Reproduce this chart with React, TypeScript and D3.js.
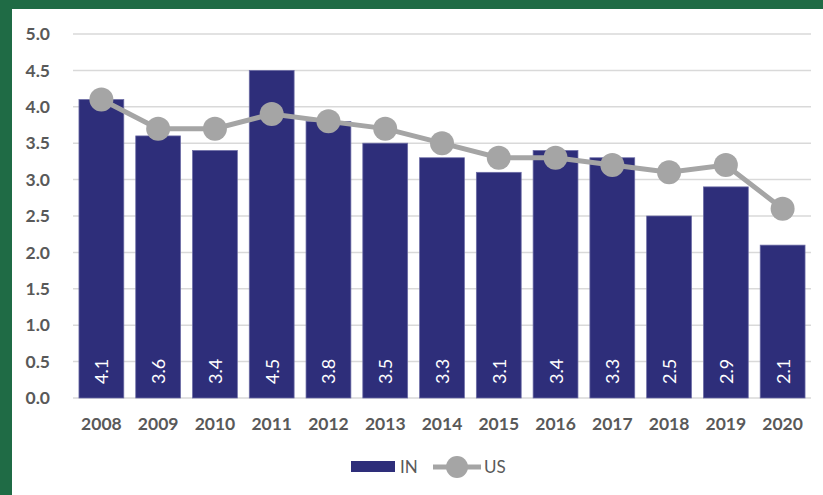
import { useEffect, useRef } from 'react';
import * as d3 from 'd3';

const years = ['2008', '2009', '2010', '2011', '2012', '2013', '2014', '2015', '2016', '2017', '2018', '2019', '2020'];
const inValues = [4.1, 3.6, 3.4, 4.5, 3.8, 3.5, 3.3, 3.1, 3.4, 3.3, 2.5, 2.9, 2.1];
const usValues = [4.1, 3.7, 3.7, 3.9, 3.8, 3.7, 3.5, 3.3, 3.3, 3.2, 3.1, 3.2, 2.6];
const yTicks = [0, 0.5, 1, 1.5, 2, 2.5, 3, 3.5, 4, 4.5, 5];

const W = 823;
const H = 495;
const FONT = 'Lato, "Open Sans", sans-serif';

const App = () => {
  const ref = useRef<SVGSVGElement>(null);

  useEffect(() => {
    const svg = d3.select(ref.current);
    svg.selectAll('*').remove();

    // green frame + white panel
    svg.append('rect').attr('width', W).attr('height', H).attr('fill', '#1f6b45');
    svg.append('rect').attr('x', 12).attr('y', 9).attr('width', W - 12).attr('height', H - 9).attr('fill', '#fff');

    const left = 73, right = 811, top = 34, bottom = 398;

    const x = d3.scaleBand().domain(years).range([left, right]).paddingInner(0.21).paddingOuter(0.105);
    const y = d3.scaleLinear().domain([0, 5]).range([bottom, top]);

    const grid = svg.append('g');
    grid.selectAll('line')
      .data(yTicks)
      .join('line')
      .attr('x1', left)
      .attr('x2', right)
      .attr('y1', d => y(d))
      .attr('y2', d => y(d))
      .attr('stroke', '#d9d9d9')
      .attr('stroke-width', 1.5);

    const yAxis = svg.append('g')
      .attr('transform', `translate(${left - 20},0)`)
      .call(d3.axisLeft(y).tickValues(yTicks).tickFormat(d3.format('.1f')).tickSize(0));
    yAxis.select('.domain').remove();
    yAxis.selectAll('text')
      .attr('fill', '#595959')
      .attr('font-size', 17.5)
      .attr('font-weight', 'bold')
      .attr('font-family', FONT);

    const xAxis = svg.append('g')
      .attr('transform', `translate(0,${bottom + 17})`)
      .call(d3.axisBottom(x).tickSize(0));
    xAxis.select('.domain').remove();
    xAxis.selectAll('text')
      .attr('fill', '#595959')
      .attr('font-size', 17.5)
      .attr('font-weight', 'bold')
      .attr('font-family', FONT);

    // bars
    svg.append('g')
      .selectAll('rect')
      .data(inValues)
      .join('rect')
      .attr('x', (d, i) => x(years[i])!)
      .attr('y', d => y(d))
      .attr('width', x.bandwidth())
      .attr('height', d => bottom - y(d))
      .attr('fill', '#2e2e7a')
      .attr('stroke', '#6d6da6')
      .attr('stroke-width', 0.75);

    // bar labels
    svg.append('g')
      .selectAll('text')
      .data(inValues)
      .join('text')
      .attr('transform', (d, i) => `translate(${x(years[i])! + x.bandwidth() / 2 + 7},${bottom - 14}) rotate(-90)`)
      .attr('fill', '#fff')
      .attr('font-size', 18)
      .attr('font-family', FONT)
      .text(d => d3.format('.1f')(d));

    // US line
    const line = d3.line<number>()
      .x((d, i) => x(years[i])! + x.bandwidth() / 2)
      .y(d => y(d));
    svg.append('path')
      .datum(usValues)
      .attr('d', line)
      .attr('fill', 'none')
      .attr('stroke', '#a5a5a5')
      .attr('stroke-width', 5);
    svg.append('g')
      .selectAll('circle')
      .data(usValues)
      .join('circle')
      .attr('cx', (d, i) => x(years[i])! + x.bandwidth() / 2)
      .attr('cy', d => y(d))
      .attr('r', 12)
      .attr('fill', '#a5a5a5');

    // legend
    const lg = svg.append('g').attr('font-family', FONT).attr('font-size', 17).attr('fill', '#595959');
    lg.append('rect').attr('x', 351).attr('y', 461).attr('width', 44).attr('height', 11).attr('fill', '#2e2e7a');
    lg.append('text').attr('x', 400).attr('y', 473).text('IN');
    lg.append('line').attr('x1', 433).attr('x2', 481).attr('y1', 467).attr('y2', 467).attr('stroke', '#a5a5a5').attr('stroke-width', 5);
    lg.append('circle').attr('cx', 457).attr('cy', 467).attr('r', 11).attr('fill', '#a5a5a5');
    lg.append('text').attr('x', 484).attr('y', 473).text('US');
  }, []);

  return <svg ref={ref} width={W} height={H} style={{ display: 'block', position: 'absolute', left: 0, top: 0 }} />;
};

export default App;
